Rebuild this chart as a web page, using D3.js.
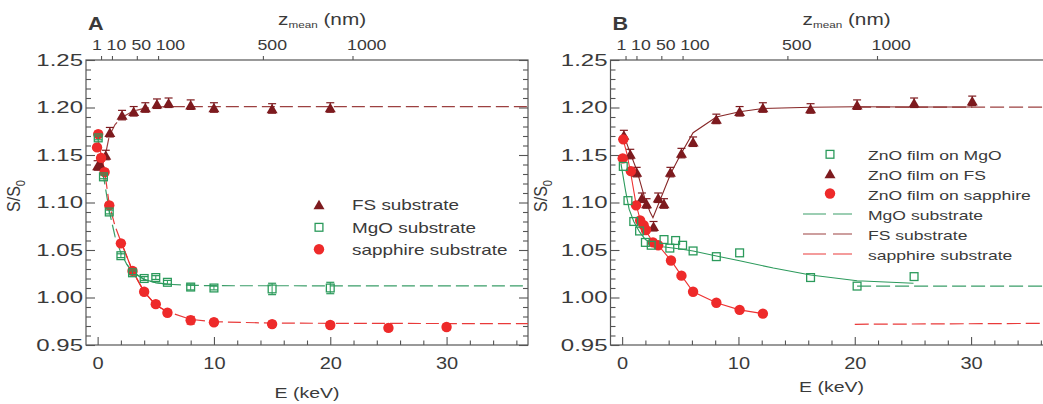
<!DOCTYPE html>
<html><head><meta charset="utf-8">
<script src="https://cdn.jsdelivr.net/npm/d3@7"></script>
<style>body{margin:0;background:#fff;} svg{display:block}</style>
</head><body>
<script>
// ---------------- DATA ----------------
const E_DOMAIN = [-1, 37];
const S_DOMAIN = [0.95, 1.25];
const xMajorTicks = [0, 10, 20, 30];
const yMajorTicks = [0.95, 1.00, 1.05, 1.10, 1.15, 1.20, 1.25];
const zTicks = [1, 10, 50, 100, 500, 1000];

// Panel A : substrates
const A_FS_E   = [0.0, 0.2, 0.7, 1.05, 2.1, 3.1, 4.1, 5.1, 6.1, 8.0, 10.0, 15.0, 20.0];
const A_FS_S   = [1.139, 1.141, 1.150, 1.174, 1.192, 1.196, 1.200, 1.204, 1.205, 1.203, 1.200, 1.199, 1.200];
const A_FS_ERR = [0.005, 0.005, 0.005, 0.005, 0.005, 0.005, 0.005, 0.005, 0.005, 0.005, 0.005, 0.005, 0.005];

const A_MgO_E   = [0.05, 0.5, 1.0, 2.0, 3.0, 4.0, 5.0, 6.0, 8.0, 10.0, 15.0, 20.0];
const A_MgO_S   = [1.168, 1.127, 1.090, 1.044, 1.026, 1.020, 1.021, 1.016, 1.011, 1.010, 1.009, 1.010];
const A_MgO_ERR = [0.002, 0.002, 0.002, 0.002, 0.002, 0.002, 0.002, 0.002, 0.003, 0.002, 0.006, 0.006];

const A_Sap_E   = [0.05, -0.05, 0.3, 0.6, 1.0, 2.0, 3.0, 4.0, 5.0, 6.0, 8.0, 10.0, 15.0, 20.0, 25.0, 30.0];
const A_Sap_S   = [1.172, 1.158, 1.147, 1.132, 1.097, 1.057, 1.028, 1.006, 0.993, 0.984, 0.976, 0.974, 0.972, 0.971, 0.968, 0.969];
const A_Sap_ERR = [0.003, 0.003, 0.003, 0.003, 0.003, 0.003, 0.003, 0.003, 0.003, 0.003, 0.004, 0.003, 0.003, 0.003, 0.003, 0.003];

// Panel A : fit / substrate curves  [E, S]
const A_FS_fit  = [[0.35,1.136],[0.7,1.152],[1.0,1.170],[1.5,1.182],[2.0,1.189],[3.0,1.196],[4.0,1.199],[5.0,1.2005],[6.0,1.201],[8.0,1.201],[37,1.201]];
const A_MgO_fit = [[0.0,1.170],[0.5,1.128],[1.0,1.091],[1.5,1.064],[2.0,1.047],[2.5,1.035],[3.0,1.027],[4.0,1.019],[5.0,1.0155],[6.0,1.014],[8.0,1.0128],[10.0,1.0124],[37,1.0122]];
const A_Sap_fit = [[0.05,1.165],[0.6,1.133],[1.0,1.098],[1.5,1.075],[2.0,1.059],[3.0,1.028],[4.0,1.006],[5.0,0.992],[6.0,0.985],[8.0,0.977],[10.0,0.9745],[15.0,0.973],[37,0.9724]];

// Panel B : ZnO films
const B_MgO_E = [0.1, 0.5, 1.0, 1.5, 2.0, 2.5, 3.6, 4.1, 4.6, 5.2, 6.1, 8.1, 10.1, 16.2, 20.2, 25.1];
const B_MgO_S = [1.138, 1.102, 1.080, 1.070, 1.058, 1.055, 1.061, 1.052, 1.060, 1.055, 1.049, 1.043, 1.047, 1.021, 1.012, 1.022];

const B_FS_E   = [0.15, 0.7, 1.25, 1.7, 2.1, 2.7, 3.1, 3.6, 4.15, 5.1, 6.1, 8.1, 10.1, 12.1, 16.2, 20.2, 25.1, 30.1];
const B_FS_S   = [1.171, 1.151, 1.132, 1.105, 1.099, 1.075, 1.105, 1.099, 1.132, 1.152, 1.164, 1.188, 1.196, 1.200, 1.199, 1.203, 1.205, 1.207];
const B_FS_ERR = [0.005, 0.005, 0.005, 0.005, 0.005, 0.005, 0.005, 0.005, 0.005, 0.005, 0.005, 0.005, 0.005, 0.005, 0.005, 0.005, 0.005, 0.005];

const B_Sap_E = [0.05, 0.1, 0.75, 1.2, 1.55, 1.85, 2.05, 2.65, 3.1, 4.2, 5.1, 6.1, 8.1, 10.1, 12.1];
const B_Sap_S = [1.1465, 1.1665, 1.133, 1.097, 1.081, 1.076, 1.071, 1.058, 1.055, 1.039, 1.023, 1.006, 0.9945, 0.987, 0.983];

// Panel B : fit curves [E, S]
const B_FS_fit  = [[0.2,1.169],[0.7,1.152],[1.26,1.134],[1.98,1.103],[2.4,1.090],[2.65,1.084],[4.2,1.131],[5.1,1.152],[6.1,1.1735],[8.1,1.190],[10.1,1.1956],[12.1,1.199],[16.2,1.2002],[20.2,1.2008],[25.1,1.2005],[30.1,1.2005]];
const B_MgO_fit = [[-0.1,1.141],[0.3,1.112],[0.6,1.093],[1.0,1.080],[1.5,1.069],[2.0,1.061],[2.6,1.0565],[3.5,1.0535],[5.0,1.051],[6.1,1.049],[8.0,1.044],[10.1,1.0387],[13.0,1.031],[16.2,1.0237],[20.2,1.0177],[25.05,1.015]];
const B_Sap_fit = [[0.05,1.168],[0.4,1.152],[0.75,1.130],[1.2,1.098],[1.55,1.082],[1.85,1.076],[2.05,1.070],[2.65,1.058],[3.1,1.055],[4.2,1.039],[5.1,1.023],[6.1,1.006],[8.1,0.9945],[10.1,0.987],[12.1,0.983]];
// Panel B : substrate reference levels [E, S]
const B_MgO_sub = [[20.2,1.012],[37,1.012]];
const B_FS_sub  = [[20.2,1.2005],[37,1.2005]];
const B_Sap_sub = [[20.0,0.9718],[37,0.9728]];

// mean depth z (nm) -> beam energy E (keV)  (z = 7.16 * E^1.6)
const zToE = z => Math.pow(z / 7.16, 1 / 1.6);

// ---------------- DRAWING ----------------
const W = 1043, H = 404;
const svg = d3.select("body").append("svg").attr("width", W).attr("height", H)
  .style("font-family", "'Liberation Sans', Arial, Helvetica, sans-serif");

const COL = {
  fs: "#7d1a1e", mgo: "#2b9a5b", sap: "#ee2a2a",
  fsL: "#9c4040", mgoL: "#3a9d68", sapL: "#e93a3a",
  fsB: "#862626", mgoB: "#2c9a5c", sapB: "#ee3232",
  axis: "#555", text: "#3a3a3a"
};
const PLOT_W = 442, Y_TOP = 60, Y_BOT = 345;
const zLabelShift = [-8, -5, -5, -2.5, -5, -5];   // label offsets (px, before x-scaling)

function txt(g, x, y, s, size, opt = {}) {
  const t = g.append("text")
    .attr("transform", `translate(${x},${y}) scale(${opt.sx || 1.3},1)` + (opt.rot ? ` rotate(${opt.rot})` : ""))
    .attr("text-anchor", opt.anchor || "start")
    .style("font-size", size + "px")
    .style("font-weight", opt.bold ? "bold" : "normal")
    .attr("fill", COL.text);
  if (s !== null) t.text(s);
  return t;
}
const triPath = (s = 11, h = 9.5) => `M0,${-h / 2}L${s / 2},${h / 2}L${-s / 2},${h / 2}Z`;

function drawPanel(o) {
  const x = d3.scaleLinear().domain(E_DOMAIN).range([o.x0, o.x0 + PLOT_W]);
  const y = d3.scaleLinear().domain(S_DOMAIN).range([Y_BOT, Y_TOP]);
  const g = svg.append("g");

  const minorX = d3.range(0, 37, 2).filter(v => v % 10 !== 0);
  const minorY = d3.range(95, 126).filter(v => v % 5 !== 0).map(v => v / 100);
  const styleAxis = a => { a.select(".domain").remove(); a.selectAll("line").attr("stroke", COL.axis).attr("stroke-width", 1.1); };

  // bottom
  g.append("g").attr("transform", `translate(0,${Y_BOT})`)
    .call(d3.axisBottom(x).tickValues(xMajorTicks).tickSize(-8).tickPadding(13).tickFormat(d3.format("d")))
    .call(styleAxis)
    .call(a => a.selectAll("text").attr("fill", COL.text).style("font-size", "16px")
      .style("font-family", "'Liberation Sans', Arial, sans-serif").attr("transform", "scale(1.25,1)"));
  g.append("g").attr("transform", `translate(0,${Y_BOT})`)
    .call(d3.axisBottom(x).tickValues(minorX).tickSize(-4.5).tickFormat(""))
    .call(styleAxis);
  // left
  g.append("g").attr("transform", `translate(${o.x0},0)`)
    .call(d3.axisLeft(y).tickValues(yMajorTicks).tickSize(-9).tickPadding(2).tickFormat(d3.format(".2f")))
    .call(styleAxis)
    .call(a => a.selectAll("text").attr("fill", COL.text).style("font-size", "16px")
      .style("font-family", "'Liberation Sans', Arial, sans-serif").attr("transform", "scale(1.5,1)"));
  g.append("g").attr("transform", `translate(${o.x0},0)`)
    .call(d3.axisLeft(y).tickValues(minorY).tickSize(-5).tickFormat("")).call(styleAxis);
  // right
  g.append("g").attr("transform", `translate(${o.x0 + PLOT_W},0)`)
    .call(d3.axisRight(y).tickValues(yMajorTicks).tickSize(-9).tickFormat("")).call(styleAxis);
  g.append("g").attr("transform", `translate(${o.x0 + PLOT_W},0)`)
    .call(d3.axisRight(y).tickValues(minorY).tickSize(-5).tickFormat("")).call(styleAxis);
  // top (z_mean)
  g.append("g").attr("transform", `translate(0,${Y_TOP})`)
    .call(d3.axisTop(x).tickValues(zTicks.map(zToE)).tickSize(4).tickPadding(6).tickFormat((d, i) => zTicks[i]))
    .call(styleAxis)
    .call(a => a.selectAll("text").attr("fill", COL.text).style("font-size", "15px")
      .style("font-family", "'Liberation Sans', Arial, sans-serif")
      .attr("text-anchor", "start").attr("dx", (d, i) => zLabelShift[i]).attr("transform", "scale(1.18,1)"));

  // frame
  g.append("rect").attr("x", o.x0).attr("y", Y_TOP).attr("width", PLOT_W).attr("height", Y_BOT - Y_TOP)
    .attr("fill", "none").attr("stroke", COL.axis).attr("stroke-width", 1.2);

  // titles
  txt(g, o.x0 + 2, 30, o.letter, 18, { bold: true, sx: 1.2 });
  const zt = txt(g, o.x0 + 192, 25, null, 16, { sx: 1.3 });
  zt.append("tspan").text("z");
  zt.append("tspan").text("mean").style("font-size", "9px").attr("dy", 3);
  zt.append("tspan").text(" (nm)").attr("dy", -3);
  txt(g, o.x0 + 221, o.eY, "E (keV)", 15, { anchor: "middle", sx: 1.3 });
  const st = txt(g, o.sX, 196, null, 16, { anchor: "middle", sx: 1.2, rot: -90 });
  st.append("tspan").text("S/S");
  st.append("tspan").text("0").style("font-size", "11px").attr("dy", 4);

  const line = d3.line().x(d => x(d[0])).y(d => y(d[1]));
  return { g, x, y, line };
}

function errBars(g, x, y, E, S, ERR, color) {
  E.forEach((e, i) => {
    const er = ERR[i]; if (!er) return;
    const cx = x(e), y1 = y(S[i] - er), y2 = y(S[i] + er);
    g.append("line").attr("x1", cx).attr("x2", cx).attr("y1", y1).attr("y2", y2).attr("stroke", color).attr("stroke-width", 1);
    [y1, y2].forEach(yy => g.append("line").attr("x1", cx - 4).attr("x2", cx + 4).attr("y1", yy).attr("y2", yy)
      .attr("stroke", color).attr("stroke-width", 1.2));
  });
}
function triangles(g, x, y, E, S, color) {
  g.selectAll(null).data(E).enter().append("path")
    .attr("d", triPath()).attr("transform", (e, i) => `translate(${x(e)},${y(S[i])})`).attr("fill", color);
}
function circles(g, x, y, E, S, color) {
  g.selectAll(null).data(E).enter().append("circle")
    .attr("cx", e => x(e)).attr("cy", (e, i) => y(S[i])).attr("r", 5.2).attr("fill", color);
}
function squares(g, x, y, E, S, color) {
  g.selectAll(null).data(E).enter().append("rect")
    .attr("x", e => x(e) - 3.9).attr("y", (e, i) => y(S[i]) - 3.9).attr("width", 7.8).attr("height", 7.8)
    .attr("fill", "none").attr("stroke", color).attr("stroke-width", 1.3);
}
function path(g, lineGen, data, color, dash, w = 1.2) {
  g.append("path").attr("d", lineGen(data)).attr("fill", "none").attr("stroke", color)
    .attr("stroke-width", w).attr("stroke-dasharray", dash || null);
}

// ---------- Panel A ----------
{
  const { g, x, y, line } = drawPanel({ x0: 86, letter: "A", eY: 398, sX: 20 });
  path(g, line, A_FS_fit, COL.fsL, "13,5");
  path(g, line, A_MgO_fit, COL.mgoL, "13,5");
  path(g, line, A_MgO_fit.filter(d => d[0] >= 2.5 && d[0] <= 6), COL.mgo, null);
  path(g, line, A_Sap_fit, COL.sapL, "13,5");
  path(g, line, A_Sap_fit.filter(d => d[0] >= 2 && d[0] <= 6), COL.sap, null);

  errBars(g, x, y, A_FS_E, A_FS_S, A_FS_ERR, COL.fs);
  triangles(g, x, y, A_FS_E, A_FS_S, COL.fs);
  errBars(g, x, y, A_Sap_E, A_Sap_S, A_Sap_ERR, COL.sap);
  circles(g, x, y, A_Sap_E, A_Sap_S, COL.sap);
  errBars(g, x, y, A_MgO_E, A_MgO_S, A_MgO_ERR, COL.mgo);
  squares(g, x, y, A_MgO_E, A_MgO_S, COL.mgo);

  // legend
  const lx = 319, tx = 352;
  g.append("path").attr("d", triPath()).attr("transform", `translate(${lx},204.5)`).attr("fill", COL.fs);
  g.append("rect").attr("x", lx - 3.9).attr("y", 227.3 - 3.9).attr("width", 7.8).attr("height", 7.8)
    .attr("fill", "none").attr("stroke", COL.mgo).attr("stroke-width", 1.3);
  g.append("circle").attr("cx", lx).attr("cy", 249.3).attr("r", 5.2).attr("fill", COL.sap);
  txt(g, tx, 210, "FS substrate", 14, { sx: 1.35 });
  txt(g, tx, 232.5, "MgO substrate", 14, { sx: 1.35 });
  txt(g, tx, 255, "sapphire substrate", 14, { sx: 1.35 });
}

// ---------- Panel B ----------
{
  const { g, x, y, line } = drawPanel({ x0: 610.5, letter: "B", eY: 392, sX: 547 });
  path(g, line, B_MgO_sub, COL.mgoL, "14,5");
  path(g, line, B_FS_sub, COL.fsL, "14,5");
  path(g, line, B_Sap_sub, COL.sapL, "14,5");
  path(g, line, B_MgO_fit, COL.mgoB, null, 1.1);
  path(g, line, B_FS_fit, COL.fsB, null, 1.1);
  path(g, line, B_Sap_fit, COL.sapB, null, 1.1);

  errBars(g, x, y, B_FS_E, B_FS_S, B_FS_ERR, COL.fs);
  triangles(g, x, y, B_FS_E, B_FS_S, COL.fs);
  circles(g, x, y, B_Sap_E, B_Sap_S, COL.sap);
  squares(g, x, y, B_MgO_E, B_MgO_S, COL.mgo);

  // legend
  const lx = 830, tx = 868;
  g.append("rect").attr("x", lx - 3.9).attr("y", 154.3 - 3.9).attr("width", 7.8).attr("height", 7.8)
    .attr("fill", "none").attr("stroke", COL.mgo).attr("stroke-width", 1.3);
  g.append("path").attr("d", triPath()).attr("transform", `translate(${lx},173.5)`).attr("fill", COL.fs);
  g.append("circle").attr("cx", lx).attr("cy", 193.5).attr("r", 5.2).attr("fill", COL.sap);
  [[214, COL.mgoL], [234, COL.fsL], [254, COL.sapL]].forEach(([yy, c]) =>
    g.append("line").attr("x1", 803).attr("x2", 852).attr("y1", yy).attr("y2", yy)
      .attr("stroke", c).attr("stroke-width", 1.2).attr("stroke-dasharray", "23,7"));
  const labels = ["ZnO film on MgO", "ZnO film on FS", "ZnO film on sapphire", "MgO substrate", "FS substrate", "sapphire substrate"];
  [160, 180, 200, 220, 240, 260].forEach((yy, i) => txt(g, tx, yy, labels[i], 13, { sx: 1.35 }));
}
</script>
</body></html>
